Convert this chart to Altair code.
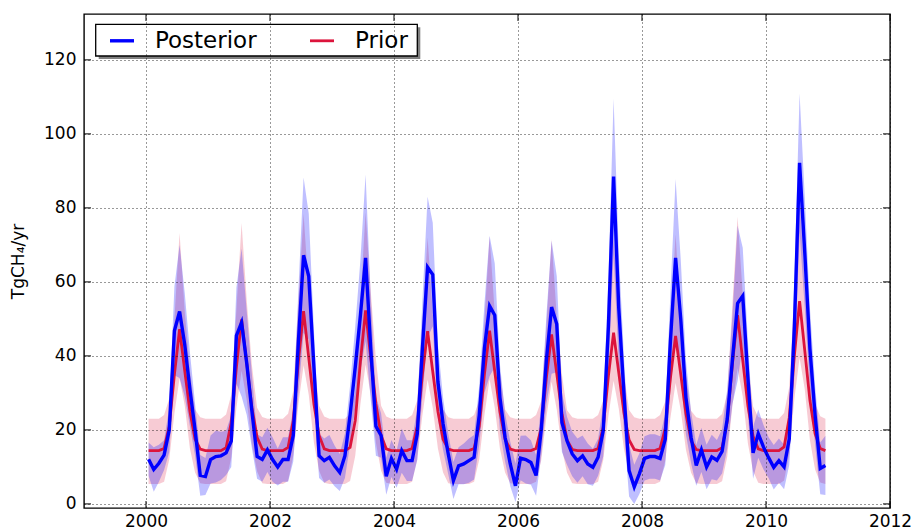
import altair as alt
import pandas as pd

years = list(range(2000, 2011))
months = list(range(1, 13))

posterior = [
    [12.1, 9.3, 11.0, 13.2, 20.0, 46.8, 52.0, 43.0, 31.0, 20.0, 7.7, 7.4],
    [12.0, 12.8, 13.0, 13.8, 17.0, 45.5, 49.0, 38.0, 25.0, 12.8, 12.0, 14.6],
    [12.0, 10.0, 12.0, 12.0, 18.5, 44.0, 67.2, 61.5, 37.0, 13.0, 11.7, 12.6],
    [10.3, 8.5, 13.0, 24.0, 37.0, 51.0, 66.5, 42.0, 21.0, 18.5, 7.5, 12.3],
    [9.4, 14.4, 11.7, 11.7, 18.9, 42.0, 64.0, 62.0, 33.0, 21.6, 13.5, 6.3],
    [10.3, 10.8, 11.7, 12.6, 24.0, 42.0, 53.5, 51.0, 28.8, 18.0, 10.8, 4.9],
    [12.4, 12.0, 11.2, 7.7, 20.0, 39.0, 53.2, 48.6, 22.0, 17.0, 13.5, 11.7],
    [13.0, 10.8, 9.9, 12.6, 19.8, 48.0, 88.5, 53.0, 30.0, 9.0, 4.6, 8.2],
    [12.3, 12.8, 12.8, 12.3, 17.5, 44.0, 66.5, 50.0, 28.8, 18.0, 10.4, 14.6],
    [10.0, 12.7, 11.8, 14.2, 23.0, 39.0, 54.2, 56.2, 34.0, 13.8, 19.0, 15.4],
    [12.5, 9.9, 11.7, 10.0, 17.5, 48.0, 92.2, 68.0, 42.0, 24.0, 9.6, 10.4],
]
posterior_hi = [
    [16.6, 15.3, 16.0, 17.2, 26.0, 58.8, 70.0, 57.0, 41.0, 27.0, 13.2, 12.4],
    [18.5, 19.8, 19.5, 19.8, 24.0, 58.5, 69.0, 52.0, 35.0, 18.8, 18.0, 20.6],
    [18.0, 15.0, 18.0, 18.0, 25.5, 58.0, 88.2, 78.5, 47.0, 19.0, 17.7, 18.6],
    [15.8, 13.5, 19.0, 32.0, 48.0, 66.0, 89.0, 56.0, 29.0, 24.5, 12.5, 17.3],
    [14.4, 20.4, 17.2, 17.2, 25.9, 55.0, 83.0, 76.0, 43.0, 28.6, 19.0, 11.3],
    [15.3, 16.3, 17.7, 18.6, 32.0, 54.0, 72.5, 65.0, 37.8, 24.5, 16.8, 10.9],
    [18.4, 18.5, 17.2, 13.2, 27.0, 51.0, 71.2, 61.6, 30.0, 23.5, 19.5, 17.7],
    [18.5, 16.3, 14.9, 17.6, 26.8, 61.0, 109.5, 68.0, 40.0, 16.0, 10.6, 13.7],
    [18.3, 18.8, 18.8, 18.3, 24.5, 57.0, 87.8, 66.0, 38.8, 25.0, 15.9, 20.6],
    [16.0, 18.7, 17.3, 20.2, 31.0, 51.0, 75.2, 69.2, 44.0, 20.8, 25.5, 21.4],
    [18.0, 15.9, 17.7, 16.0, 24.5, 61.0, 110.9, 83.0, 53.0, 32.0, 16.6, 18.4],
]
posterior_lo = [
    [7.6, 3.3, 6.0, 9.2, 14.0, 34.8, 34.0, 29.0, 21.0, 13.0, 2.2, 2.4],
    [5.5, 5.8, 6.5, 7.8, 10.0, 32.5, 29.0, 24.0, 15.0, 6.8, 6.0, 8.6],
    [6.0, 5.0, 6.0, 6.0, 11.5, 30.0, 46.2, 44.5, 27.0, 7.0, 5.7, 6.6],
    [4.8, 3.5, 7.0, 16.0, 26.0, 36.0, 44.0, 28.0, 13.0, 12.5, 2.5, 7.3],
    [4.4, 8.4, 6.2, 6.2, 11.9, 29.0, 45.0, 48.0, 23.0, 14.6, 8.0, 1.3],
    [5.3, 5.3, 5.7, 6.6, 16.0, 30.0, 34.5, 37.0, 19.8, 11.5, 4.8, 0.5],
    [6.4, 5.5, 5.2, 2.2, 13.0, 27.0, 35.2, 35.6, 14.0, 10.5, 7.5, 5.7],
    [7.5, 5.3, 4.9, 7.6, 12.8, 35.0, 67.5, 38.0, 20.0, 2.0, 0.0, 2.7],
    [6.3, 6.8, 6.8, 6.3, 10.5, 31.0, 45.5, 34.0, 18.8, 11.0, 4.9, 8.6],
    [4.0, 6.7, 6.3, 8.2, 15.0, 27.0, 33.2, 43.2, 24.0, 6.8, 12.5, 9.4],
    [7.0, 3.9, 5.7, 4.0, 10.5, 35.0, 73.5, 53.0, 31.0, 16.0, 2.6, 2.4],
]
prior = [
    [14.4, 14.4, 14.4, 15.0, 21.0, 35.0, 47.2, 36.0, 25.0, 17.5, 14.8, 14.4],
    [14.4, 14.4, 14.4, 15.2, 22.0, 37.0, 49.9, 38.0, 26.0, 18.0, 14.8, 14.4],
    [14.4, 14.4, 14.4, 15.3, 22.5, 38.5, 52.1, 39.5, 27.0, 18.5, 14.9, 14.4],
    [14.4, 14.4, 14.4, 15.3, 22.5, 38.5, 52.3, 39.5, 27.0, 18.5, 14.9, 14.4],
    [14.4, 14.4, 14.4, 15.0, 21.0, 35.0, 46.7, 35.8, 25.0, 17.5, 14.8, 14.4],
    [14.4, 14.4, 14.4, 15.0, 21.0, 35.0, 46.8, 35.8, 25.0, 17.5, 14.8, 14.4],
    [14.4, 14.4, 14.4, 15.0, 20.5, 34.2, 45.8, 35.2, 24.5, 17.2, 14.7, 14.4],
    [14.4, 14.4, 14.4, 15.0, 20.7, 34.6, 46.3, 35.5, 24.7, 17.3, 14.7, 14.4],
    [14.4, 14.4, 14.4, 15.0, 20.4, 34.0, 45.4, 35.0, 24.4, 17.1, 14.7, 14.4],
    [14.4, 14.4, 14.4, 15.2, 22.3, 37.8, 51.0, 38.8, 26.5, 18.3, 14.9, 14.4],
    [14.4, 14.4, 14.4, 15.4, 23.3, 40.2, 54.8, 41.5, 28.0, 19.0, 15.0, 14.4],
]
prior_hi = [
    [23, 23, 23, 24.0, 28.5, 50.0, 73.2, 52.0, 36.0, 25.5, 23.4, 23],
    [23, 23, 23, 24.2, 29.5, 52.5, 75.9, 55.0, 37.5, 26.0, 23.5, 23],
    [23, 23, 23, 24.4, 30.5, 55.0, 78.4, 57.5, 39.0, 26.5, 23.6, 23],
    [23, 23, 23, 24.4, 30.5, 55.0, 78.8, 57.5, 39.0, 26.5, 23.6, 23],
    [23, 23, 23, 24.0, 28.0, 49.5, 72.0, 51.5, 35.5, 25.5, 23.4, 23],
    [23, 23, 23, 24.0, 28.0, 49.5, 72.3, 51.5, 35.5, 25.5, 23.4, 23],
    [23, 23, 23, 24.0, 27.8, 48.5, 71.5, 50.5, 35.0, 25.3, 23.4, 23],
    [23, 23, 23, 24.0, 28.0, 49.0, 72.0, 51.0, 35.2, 25.4, 23.4, 23],
    [23, 23, 23, 24.0, 27.7, 48.2, 72.8, 50.3, 34.8, 25.2, 23.4, 23],
    [23, 23, 23, 24.3, 30.0, 54.0, 77.6, 56.5, 38.5, 26.3, 23.5, 23],
    [23, 23, 23, 24.6, 31.5, 57.5, 83.0, 60.0, 40.5, 27.0, 23.7, 23],
]
prior_lo = [
    [5.4, 5.4, 5.4, 6.0, 12.0, 24.5, 34.0, 26.5, 15.0, 8.5, 5.6, 5.4],
    [5.4, 5.4, 5.4, 6.1, 12.5, 26.0, 36.0, 28.0, 16.0, 8.8, 5.6, 5.4],
    [5.4, 5.4, 5.4, 6.2, 13.0, 27.0, 37.5, 29.5, 16.5, 9.0, 5.7, 5.4],
    [5.4, 5.4, 5.4, 6.2, 13.0, 27.0, 37.7, 29.5, 16.5, 9.0, 5.7, 5.4],
    [5.4, 5.4, 5.4, 6.0, 12.0, 24.0, 33.6, 26.0, 15.0, 8.5, 5.6, 5.4],
    [5.4, 5.4, 5.4, 6.0, 12.0, 24.0, 33.7, 26.0, 15.0, 8.5, 5.6, 5.4],
    [5.4, 5.4, 5.4, 6.0, 11.8, 23.5, 33.0, 25.5, 14.8, 8.4, 5.6, 5.4],
    [5.4, 5.4, 5.4, 6.0, 11.9, 23.8, 33.3, 25.8, 14.9, 8.5, 5.6, 5.4],
    [5.4, 5.4, 5.4, 6.0, 11.7, 23.3, 32.7, 25.3, 14.7, 8.4, 5.6, 5.4],
    [5.4, 5.4, 5.4, 6.1, 12.8, 26.5, 36.7, 29.0, 16.3, 8.9, 5.7, 5.4],
    [5.4, 5.4, 5.4, 6.3, 13.5, 28.5, 39.5, 31.0, 17.3, 9.3, 5.8, 5.4],
]

x_ticks = [2000, 2002, 2004, 2006, 2008, 2010, 2012]
y_ticks = [0, 20, 40, 60, 80, 100, 120]
series_names = ["Posterior", "Prior"]
series_colors = ["#0000ff", "#dc143c"]

# ---- tables ----
rows = []
for yi, yr in enumerate(years):
    for mi, mo in enumerate(months):
        t = yr + (mo - 0.5) / 12.0
        rows.append({"t": t, "series": "Posterior", "value": posterior[yi][mi],
                     "lo": posterior_lo[yi][mi], "hi": posterior_hi[yi][mi]})
        rows.append({"t": t, "series": "Prior", "value": prior[yi][mi],
                     "lo": prior_lo[yi][mi], "hi": prior_hi[yi][mi]})
df = pd.DataFrame(rows)
df_post = df[df.series == "Posterior"]
df_prior = df[df.series == "Prior"]

FONT = "DejaVu Sans"
W, H = 806, 494

xscale = alt.Scale(domain=[1999, 2012], nice=False, zero=False)
yscale = alt.Scale(domain=[-1.1, 132.4], nice=False, zero=False)

xaxis = alt.Axis(values=x_ticks, format="d", grid=True, gridDash=[1, 3], gridColor="black",
                 gridWidth=1, gridOpacity=0.8, ticks=False, domain=False, labelFontSize=17,
                 labelFont=FONT, labelColor="black", labelPadding=5, title=None, zindex=1,
                 labelFlush=False)
yaxis = alt.Axis(values=y_ticks, format="d", grid=True, gridDash=[1, 3], gridColor="black",
                 gridWidth=1, gridOpacity=0.8, ticks=False, domain=False, labelFontSize=17,
                 labelFont=FONT, labelColor="black", labelPadding=8, title="TgCH₄/yr",
                 titleFont=FONT, titleFontSize=17, titleFontWeight="normal", titleColor="black",
                 titlePadding=16, zindex=1)

X = lambda f: alt.X(f"{f}:Q", scale=xscale, axis=xaxis, title=None)
Y = lambda f: alt.Y(f"{f}:Q", scale=yscale, axis=yaxis, title="TgCH₄/yr")

prior_band = alt.Chart(df_prior).mark_area(color=series_colors[1], opacity=0.22, clip=True).encode(
    x=X("t"), y=Y("lo"), y2="hi")
post_band = alt.Chart(df_post).mark_area(color=series_colors[0], opacity=0.25, clip=True).encode(
    x=X("t"), y=Y("lo"), y2="hi")
prior_line = alt.Chart(df_prior).mark_line(color=series_colors[1], strokeWidth=2.8, clip=True).encode(
    x=X("t"), y=Y("value"))
post_line = alt.Chart(df_post).mark_line(color=series_colors[0], strokeWidth=3.4, clip=True).encode(
    x=X("t"), y=Y("value"))

# inward ticks on all four sides
xt = pd.DataFrame({"t": x_ticks})
yt = pd.DataFrame({"v": y_ticks})
tick_bottom = alt.Chart(xt).mark_rule(color="black", strokeWidth=1).encode(
    x=X("t"), y=alt.value(H), y2=alt.value(H - 7))
tick_top = alt.Chart(xt).mark_rule(color="black", strokeWidth=1).encode(
    x=X("t"), y=alt.value(0), y2=alt.value(7))
tick_left = alt.Chart(yt).mark_rule(color="black", strokeWidth=1).encode(
    y=Y("v"), x=alt.value(0), x2=alt.value(7))
tick_right = alt.Chart(yt).mark_rule(color="black", strokeWidth=1).encode(
    y=Y("v"), x=alt.value(W - 7), x2=alt.value(W))

# legend (drawn by hand: framed box with drop shadow, two columns)
one = pd.DataFrame({"a": [0]})
LX0, LX1, LY0, LY1 = 11.7, 333.3, 10.3, 42.0
shadow = alt.Chart(one).mark_rect(color="#808080").encode(
    x=alt.value(LX0 + 3), x2=alt.value(LX1 + 3), y=alt.value(LY0 + 3), y2=alt.value(LY1 + 3))
frame = alt.Chart(one).mark_rect(fill="white", stroke="black", strokeWidth=1.3).encode(
    x=alt.value(LX0), x2=alt.value(LX1), y=alt.value(LY0), y2=alt.value(LY1))
leg_layers = [shadow, frame]
for name, color, sx, tx, sw in [(series_names[0], series_colors[0], 26, 71, 3.4),
                                 (series_names[1], series_colors[1], 226, 271, 2.8)]:
    leg_layers.append(alt.Chart(one).mark_rule(color=color, strokeWidth=sw).encode(
        x=alt.value(sx), x2=alt.value(sx + 24), y=alt.value(26.8)))
    leg_layers.append(alt.Chart(one).mark_text(
        align="left", baseline="alphabetic", font=FONT, fontSize=23, color="black").encode(
        x=alt.value(tx), y=alt.value(33.5), text=alt.value(name)))

chart = alt.layer(
    prior_band, post_band, prior_line, post_line,
    tick_bottom, tick_top, tick_left, tick_right, *leg_layers
).properties(
    width=W, height=H,
    autosize=alt.AutoSizeParams(type="none"),
    padding={"left": 84, "top": 14, "right": 24, "bottom": 23},
    background="white",
).configure_view(stroke="black", strokeWidth=1.4)

chart.save("out.html", embed_options={"renderer": "svg", "actions": False})
